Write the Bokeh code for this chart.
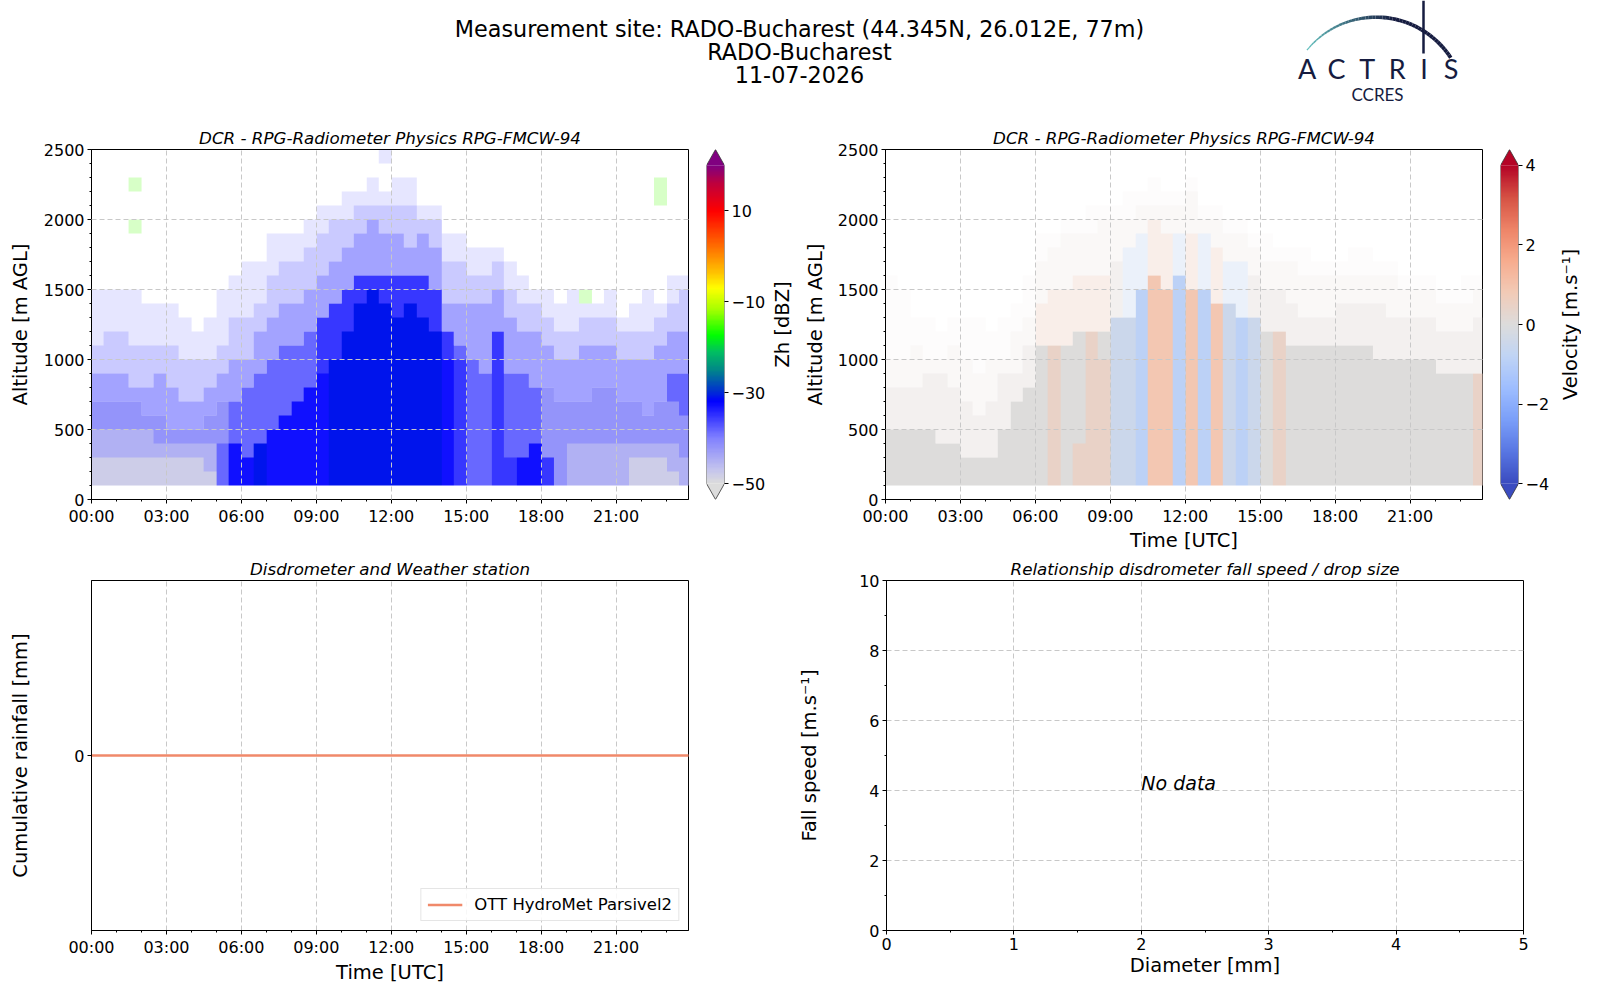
import math
import numpy as np
from bokeh.plotting import figure
from bokeh.models import Range1d, FixedTicker, LinearColorMapper, Legend, LegendItem
from bokeh.layouts import column, row
from bokeh.embed import file_html
from bokeh.resources import INLINE
from bokeh.core.properties import value

FONT = "DejaVu Sans"

# ---------------- texts ----------------
SUPTITLE = ["Measurement site: RADO-Bucharest (44.345N, 26.012E, 77m)",
            "RADO-Bucharest", "11-07-2026"]
RADAR_TITLE = "DCR - RPG-Radiometer Physics RPG-FMCW-94"
RAIN_TITLE = "Disdrometer and Weather station"
FALL_TITLE = "Relationship disdrometer fall speed / drop size"
ZH_LABEL = "Zh [dBZ]"
V_LABEL = "Velocity [m.s\u207b\u00b9]"
LOGO_LETTERS = ["A", "C", "T", "R", "I", "S"]
LOGO_SUB = "CCRES"

# ---------------- axes ----------------
HOUR_TICKS = [0, 3, 6, 9, 12, 15, 18, 21]
HOUR_LABELS = ["00:00", "03:00", "06:00", "09:00", "12:00", "15:00", "18:00", "21:00"]
HOUR_MINOR = list(range(0, 25))
TIME_END = 23.9
ALT_TICKS = [0, 500, 1000, 1500, 2000, 2500]
ALT_MINOR = list(range(0, 2600, 100))
ZH_TICKS = [-50, -30, -10, 10]
ZH_TICK_LABELS = ["\u221250", "\u221230", "\u221210", "10"]
ZH_LIMITS = (-50, 20)
V_TICKS = [-4, -2, 0, 2, 4]
V_TICK_LABELS = ["\u22124", "\u22122", "0", "2", "4"]
V_LIMITS = (-4, 4)
DIAM_TICKS = [0, 1, 2, 3, 4, 5]
DIAM_MINOR = [0.5 * i for i in range(11)]
SPEED_TICKS = [0, 2, 4, 6, 8, 10]
SPEED_MINOR = list(range(11))

# ---------------- colour scales ----------------
ZH_STOPS = [(-50, "#dcdcdc"), (-47, "#c4c4ee"), (-40, "#8080ff"), (-32, "#0000ff"),
            (-29.7, "#0030d0"), (-25, "#008888"), (-21, "#00c060"), (-17.4, "#00ff00"),
            (-12, "#a0ff00"), (-7, "#ffff00"), (-3.5, "#ffc000"), (2, "#ff7000"),
            (10, "#ff0000"), (16, "#c0003c"), (20, "#800080")]
V_STOPS = [(-4.0, "#3b4cc0"), (-3.2, "#5977e3"), (-2.4, "#7b9ff9"), (-1.6, "#9ebeff"),
           (-0.8, "#c0d4f5"), (0.0, "#dddcdc"), (0.8, "#f2cbb7"), (1.6, "#f7ac8e"),
           (2.4, "#ee8468"), (3.2, "#d65244"), (4.0, "#b40426")]

# ---------------- radar data (30-min columns, 100 m rows from 100 m) ----------------
COL_STEP_H = 0.5
ROW_BASE_M = 100
ROW_STEP_M = 100
N_ROWS = 24
# code -> (coverage of the cell)
ZH_CODES = {"g": (-48, 1.0), "h": (-45, 1.0), "l": (-42, 1.0), "m": (-38.5, 1.0),
            "b": (-35.5, 1.0), "B": (-33, 1.0), "D": (-31, 1.0), "e": (-15, 0.22),
            "-": (-35, 0.45), ";": (-33, 0.22), ":": (-33, 0.1)}
# per column: layers "code<top height m>" from 100 m upward
ZH_COLS = [
    "g300 h500 l700 -900 ;1100 :1500",
    "g300 h500 l700 -900 ;1200 :1500",
    "g300 h500 l700 -900 ;1200 :1500",
    "g300 h500 l700 -800 ;1100 :1500 .1900 e2000 .2200 e2300",
    "g300 h500 l600 -800 ;1100 :1400",
    "g300 h400 l600 -900 ;1100 :1400",
    "g300 h400 l500 -800 ;1100 :1400",
    "g300 h400 l500 -700 ;1000 :1300",
    "g300 h400 l500 -700 ;1000 :1200",
    "g200 h400 l600 -800 ;1000 :1300",
    "m400 l700 -900 ;1100 :1500",
    "B400 m700 -1000 ;1300 :1600",
    "B300 m800 -1000 ;1300 :1700",
    "D400 m900 -1200 ;1400 :1700",
    "B500 m1000 -1300 ;1600 :1900",
    "B600 m1100 -1400 ;1700 :1900",
    "B700 m1100 -1400 ;1700 :1900",
    "B800 m1200 -1500 ;1800 :2000",
    "B900 b1300 -1600 ;1900 :2100",
    "D1000 b1400 -1700 ;2000 :2100",
    "D1200 b1500 -1800 ;2000 :2200",
    "D1400 b1600 -1900 ;2100 :2200",
    "D1500 b1600 -2000 ;2100 :2300",
    "D1400 b1600 -1900 ;2100 :2200 .2400 :2500",
    "D1300 b1600 -1900 ;2100 :2300",
    "D1400 b1600 -1800 ;2100 :2300",
    "D1300 b1600 -1900 ;2000 :2100",
    "D1200 b1500 -1800 ;2000 :2100",
    "B1000 b1200 -1400 ;1700 :1900",
    "b1000 m1100 -1400 ;1700 :1900",
    "m1000 -1400 ;1600 :1800",
    "m900 -1400 ;1600 :1800",
    "b1200 -1500 ;1700 :1800",
    "b300 m900 -1300 ;1500 :1700",
    "B300 m900 -1200 ;1400 :1600",
    "B400 m800 -1200 ;1400 :1500",
    "b300 l800 -1100 ;1300 :1500",
    "l700 -1000 ;1200 :1400",
    "h400 l700 -1000 ;1200 :1500",
    "h400 l700 -1100 ;1300 :1400 e1500",
    "h400 l800 -1100 ;1300 :1400",
    "h400 l800 -1100 ;1300 :1500",
    "h400 l700 -1000 ;1200 :1300",
    "g300 h400 l700 -1000 ;1200 :1400",
    "g300 h400 l600 -1000 ;1200 :1500",
    "g300 h400 l700 -1100 ;1300 :1400 .2100 e2300",
    "g200 h400 l700 m900 -1200 ;1400 :1600",
    "h300 l600 m900 -1200 ;1500 :1600",
]
V_CODES = {"g": (0.0, 1.0), "p": (0.45, 1.0), "P": (0.9, 1.0), "c": (-0.5, 1.0),
           "C": (-0.9, 1.0), "-": (0.1, 0.4), "q": (0.6, 0.35), "d": (-0.6, 0.35),
           ";": (0.2, 0.18), ":": (0.2, 0.08)}
V_COLS = [
    "g500 -800 ;1000 :1600",
    "g500 -800 ;1000 :1500",
    "g500 -800 ;1100 :1300",
    "g500 -900 ;1000 :1300",
    "g400 -900 ;1000 :1200",
    "g400 -800 ;1100 :1300",
    "g300 -700 ;1000 :1300",
    "g300 -600 ;900 :1300",
    "g300 -700 ;1000 :1200",
    "g500 -900 ;1000 :1300",
    "g700 -900 ;1200 :1400",
    "g800 -1100 ;1300 :1600",
    "g1100 q1400 ;1700 :1900",
    "p1100 q1500 ;1800 :1900",
    "g1100 q1500 ;1900 :2000",
    "p400 g1200 q1600 ;1900 :2000",
    "p1200 q1600 ;1900 :2100",
    "p1000 g1200 q1600 ;2000 :2100",
    "c1300 -1700 ;2000 :2100",
    "c1300 d1800 ;2000 :2200",
    "C1500 d1900 ;2100 :2200",
    "P1600 q2000 ;2100 :2300",
    "P1500 q1900 ;2100 :2200",
    "C1600 d1900 ;2100 :2200",
    "P1500 q1900 ;2200 :2300",
    "C1500 d1900 ;2000 :2100",
    "P1400 q1800 ;2000 :2100",
    "c1400 d1700 ;1900 :2000",
    "C1300 d1700 ;1900 :2000",
    "c1300 -1600 ;1800 :1900",
    "g1200 -1500 ;1700 :1900",
    "p1200 -1500 ;1700 :1800",
    "g1100 -1400 ;1700 :1800",
    "g1100 -1300 ;1600 :1800",
    "g1100 -1300 ;1600 :1700",
    "g1100 -1300 ;1600 :1700",
    "g1100 -1400 ;1600 :1700",
    "g1100 -1400 ;1600 :1800",
    "g1100 -1400 ;1600 :1800",
    "g1000 -1400 ;1600 :1700",
    "g1000 -1300 ;1600 :1700",
    "g1000 -1300 ;1500 :1600",
    "g1000 -1300 ;1500 :1600",
    "g1000 -1300 ;1500 :1600",
    "g900 -1200 ;1400 :1500",
    "g900 -1200 ;1400 :1500",
    "g900 -1200 ;1400 :1600",
    "p900 -1300 ;1500 :1600",
]

# ---------------- disdrometer ----------------
RAIN_HOURS = [0.0, 24.0]
RAIN_MM = [0.0, 0.0]
RAIN_LABEL = "OTT HydroMet Parsivel2"
RAIN_COLOR = "#f0896a"
NO_DATA = "No data"
NO_DATA_AT = (2.0, 4.0)

GRID_COLOR = "#c8c8c8"
FRAME_H = 350
HEADER_H = 106
ROW1_TOP, ROW1_BOTTOM = 43, 53
ROW2_TOP, ROW2_BOTTOM = 26, 53


def build_palette(stops, n=256):
    vals = np.array([s[0] for s in stops], float)
    rgb = np.array([[int(c[i:i + 2], 16) for i in (1, 3, 5)] for _, c in stops], float)
    xs = np.linspace(vals[0], vals[-1], n)
    pal = []
    for x in xs:
        r = [int(round(np.interp(x, vals, rgb[:, k]))) for k in range(3)]
        pal.append("#%02x%02x%02x" % tuple(r))
    return pal


def build_grid(cols, codes):
    val = np.full((N_ROWS, len(cols)), np.nan)
    alp = np.zeros((N_ROWS, len(cols)))
    for j, spec in enumerate(cols):
        bottom = ROW_BASE_M
        for tok in spec.split():
            code, top = tok[0], int(tok[1:])
            r0 = (bottom - ROW_BASE_M) // ROW_STEP_M
            r1 = min((top - ROW_BASE_M) // ROW_STEP_M, N_ROWS)
            if code != ".":
                v, a = codes[code]
                val[r0:r1, j] = v
                alp[r0:r1, j] = a
            bottom = top
    return val, alp


def style_axis(ax, label=None, label_standoff=5):
    ax.axis_line_color = "black"
    ax.major_tick_line_color = "black"
    ax.minor_tick_line_color = "black"
    ax.major_tick_in = 0
    ax.major_tick_out = 4
    ax.minor_tick_in = 0
    ax.minor_tick_out = 2
    ax.major_label_standoff = 3
    ax.major_label_text_font = FONT
    ax.major_label_text_font_size = "16px"
    ax.major_label_text_color = "black"
    ax.axis_label_text_font = FONT
    ax.axis_label_text_font_size = "19.5px"
    ax.axis_label_text_font_style = "normal"
    ax.axis_label_text_color = "black"
    ax.axis_label_standoff = label_standoff
    if label is not None:
        ax.axis_label = label


def style_title(p, text):
    p.title.text = text
    p.title.align = "center"
    p.title.text_font = FONT
    p.title.text_font_style = "italic"
    p.title.text_font_size = "16.7px"
    p.title.text_color = "black"
    p.title.standoff = 4


def style_grid(p, overlay=False):
    for g in (p.xgrid, p.ygrid):
        g.grid_line_color = GRID_COLOR
        g.grid_line_dash = "5 3"
        g.grid_line_width = 1
        if overlay:
            g.level = "overlay"


def time_axis(ax):
    ax.ticker = FixedTicker(ticks=HOUR_TICKS, minor_ticks=HOUR_MINOR)
    ax.major_label_overrides = {t: l for t, l in zip(HOUR_TICKS, HOUR_LABELS)}


def make_fig(fw, fh, bl, br, bt, bb, xr, yr, **kw):
    p = figure(frame_width=fw, frame_height=fh, min_border_left=bl, min_border_right=br,
               min_border_top=bt, min_border_bottom=bb, x_range=xr, y_range=yr,
               toolbar_location=None, output_backend="svg", **kw)
    p.outline_line_color = "black"
    p.outline_line_width = 1
    p.background_fill_color = "white"
    p.border_fill_color = "white"
    return p


def radar_panel(cols, codes, mapper, bl, br, xlabel, ylabel_standoff):
    p = make_fig(597, FRAME_H, bl, br, ROW1_TOP, ROW1_BOTTOM, Range1d(0, TIME_END),
                 Range1d(0, 2500))
    val, alp = build_grid(cols, codes)
    for a in sorted(set(alp[alp > 0].tolist()), reverse=True):
        img = np.where(alp == a, val, np.nan)
        p.image(image=[img], x=0, y=ROW_BASE_M, dw=len(cols) * COL_STEP_H,
                dh=N_ROWS * ROW_STEP_M, color_mapper=mapper, global_alpha=a)
    style_title(p, RADAR_TITLE)
    style_grid(p, overlay=True)
    style_axis(p.xaxis[0], xlabel, 0)
    time_axis(p.xaxis[0])
    style_axis(p.yaxis[0], "Altitude [m AGL]", ylabel_standoff)
    p.yaxis[0].ticker = FixedTicker(ticks=ALT_TICKS, minor_ticks=ALT_MINOR)
    return p


def colorbar_fig(mapper, limits, ticks, labels, bl, br):
    low, high = limits
    ext = (high - low) * 0.05
    p = figure(frame_width=18, frame_height=FRAME_H, min_border_left=bl, min_border_right=br,
               min_border_top=ROW1_TOP, min_border_bottom=ROW1_BOTTOM, x_range=Range1d(0, 1),
               y_range=Range1d(low - ext, high + ext), x_axis_location=None,
               y_axis_location="right", toolbar_location=None, output_backend="svg")
    ramp = np.linspace(low, high, 256).reshape(256, 1)
    p.image(image=[ramp], x=0, y=low, dw=1, dh=high - low, color_mapper=mapper)
    p.patch([0, 1, 0.5], [high, high, high + ext], fill_color=mapper.palette[-1], line_color=None)
    p.patch([0, 1, 0.5], [low, low, low - ext], fill_color=mapper.palette[0], line_color=None)
    p.line([0, 0.5, 1, 1, 0.5, 0, 0], [low, low - ext, low, high, high + ext, high, low],
           line_color="#333333", line_width=0.8)
    p.outline_line_color = None
    p.grid.visible = False
    ax = p.yaxis[0]
    style_axis(ax)
    ax.ticker = FixedTicker(ticks=ticks, minor_ticks=[])
    ax.major_label_overrides = {t: l for t, l in zip(ticks, labels)}
    ax.axis_line_color = None
    return p


def label_fig(width, text, x_center):
    # narrow strip that carries a colour-bar label reading bottom-to-top
    p = figure(frame_width=width, frame_height=FRAME_H, min_border=0,
               min_border_top=ROW1_TOP, min_border_bottom=ROW1_BOTTOM,
               x_range=Range1d(0, width), y_range=Range1d(0, FRAME_H),
               x_axis_location=None, y_axis_location=None,
               toolbar_location=None, output_backend="svg")
    p.outline_line_color = None
    p.grid.visible = False
    p.text(x=[x_center], y=[FRAME_H / 2], text=[text], angle=math.pi / 2, text_font=value(FONT),
           text_font_size="19.5px", text_align="center", text_baseline="middle",
           text_color="black")
    return p


# ---------------- header (coordinates = page pixels) ----------------
ph = figure(frame_width=1584, frame_height=HEADER_H, min_border=0, x_range=Range1d(0, 1584),
            y_range=Range1d(HEADER_H, 0), x_axis_location=None, y_axis_location=None,
            toolbar_location=None, output_backend="svg")
ph.outline_line_color = None
ph.grid.visible = False
ph.text(x=[799, 799, 799], y=[28.3, 51.7, 74.0], text=SUPTITLE, text_font=value(FONT),
        text_font_size="22.3px", text_align="center", text_baseline="middle",
        text_color="black")
# logo: arc with colour gradient, mast, letters
teal = np.array([0x62, 0xc0, 0xbe], float)
navy = np.array([0x16, 0x1c, 0x40], float)
th = np.linspace(math.radians(141), math.radians(33), 50)
xs, ys, cs, ws = [], [], [], []
for i in range(len(th) - 1):
    t0, t1 = th[i], th[i + 1]
    xs.append([1375.6 + 89 * math.cos(t0), 1375.6 + 89 * math.cos(t1)])
    ys.append([105.7 - 89 * math.sin(t0), 105.7 - 89 * math.sin(t1)])
    f = min(1.0, i / 28.0)
    c = teal * (1 - f) + navy * f
    cs.append("#%02x%02x%02x" % tuple(int(round(v)) for v in c))
    ws.append(1.2 + 2.6 * min(1.0, i / 25.0))
ph.multi_line(xs=xs, ys=ys, line_color=cs, line_width=ws)
ph.line([1423, 1423], [0, 53], line_color="#161c40", line_width=2.5)
ph.text(x=[1306.7, 1336.0, 1366.7, 1396.7, 1423.5, 1450.5], y=[68.3] * 6, text=LOGO_LETTERS,
        text_font=value("Lato"), text_font_size="27px", text_align="center",
        text_baseline="middle", text_color="#161c40")
ph.text(x=[1377], y=[93.5], text=[LOGO_SUB], text_font=value("Lato"), text_font_size="17px",
        text_align="center", text_baseline="middle", text_color="#161c40")

# ---------------- row 1: radar ----------------
zh_mapper = LinearColorMapper(palette=build_palette(ZH_STOPS), low=ZH_LIMITS[0],
                              high=ZH_LIMITS[1], nan_color="rgba(0,0,0,0)")
v_mapper = LinearColorMapper(palette=build_palette(V_STOPS), low=V_LIMITS[0],
                             high=V_LIMITS[1], nan_color="rgba(0,0,0,0)")

ptl = radar_panel(ZH_COLS, ZH_CODES, zh_mapper, 91, 10, None, 9)
cbl = colorbar_fig(zh_mapper, ZH_LIMITS, ZH_TICKS, ZH_TICK_LABELS, 8, 42)
lbl = label_fig(27, ZH_LABEL, 14)
ptr = radar_panel(V_COLS, V_CODES, v_mapper, 90, 10, "Time [UTC]", 8)
cbr = colorbar_fig(v_mapper, V_LIMITS, V_TICKS, V_TICK_LABELS, 8, 32)
lbr = label_fig(29, V_LABEL, 18)

# ---------------- row 2 ----------------
pbl = make_fig(597, FRAME_H, 91, 105, ROW2_TOP, ROW2_BOTTOM, Range1d(0, TIME_END),
               Range1d(-0.055, 0.055))
style_title(pbl, RAIN_TITLE)
style_grid(pbl)
pbl.ygrid.visible = False
style_axis(pbl.xaxis[0], "Time [UTC]", 1)
time_axis(pbl.xaxis[0])
style_axis(pbl.yaxis[0], "Cumulative rainfall [mm]", 39)
pbl.yaxis[0].ticker = FixedTicker(ticks=[0], minor_ticks=[])
rl = pbl.line(RAIN_HOURS, RAIN_MM, line_color=RAIN_COLOR, line_width=2.5)
leg = Legend(items=[LegendItem(label=RAIN_LABEL, renderers=[rl])], location="bottom_right")
leg.label_text_font = FONT
leg.label_text_font_size = "16.5px"
leg.label_text_color = "black"
leg.padding = 6
leg.spacing = 0
leg.margin = 9
leg.glyph_width = 35
leg.glyph_height = 19
leg.label_height = 19
leg.label_standoff = 12
leg.border_line_color = "#cccccc"
leg.border_line_width = 1
leg.background_fill_alpha = 0.85
pbl.add_layout(leg)

pbr = make_fig(637, FRAME_H, 93, 58, ROW2_TOP, ROW2_BOTTOM, Range1d(0, 5), Range1d(0, 10))
style_title(pbr, FALL_TITLE)
style_grid(pbr)
style_axis(pbr.xaxis[0], "Diameter [mm]", 1)
pbr.xaxis[0].ticker = FixedTicker(ticks=DIAM_TICKS, minor_ticks=DIAM_MINOR)
style_axis(pbr.yaxis[0], "Fall speed [m.s\u207b\u00b9]", 35)
pbr.yaxis[0].ticker = FixedTicker(ticks=SPEED_TICKS, minor_ticks=SPEED_MINOR)
pbr.text(x=[NO_DATA_AT[0]], y=[NO_DATA_AT[1]], text=[NO_DATA], text_font=value(FONT),
         text_font_style="italic", text_font_size="19px", text_align="left",
         text_baseline="middle", y_offset=-8, text_color="black")

layout = column(ph, row(ptl, cbl, lbl, ptr, cbr, lbr), row(pbl, pbr))
open("out.html", "w").write(file_html(layout, INLINE))
